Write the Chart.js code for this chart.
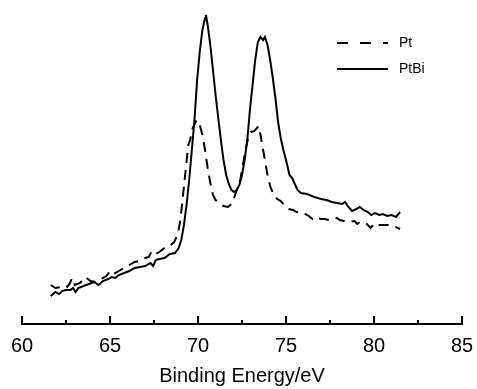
<!DOCTYPE html>
<html>
<head>
<meta charset="utf-8">
<script src="https://cdn.jsdelivr.net/npm/chart.js@4"></script>
<style>
  body { margin: 0; background: #fff; }
</style>
</head>
<body>
<canvas id="canvas" width="477" height="389"></canvas>
<script>
// Binding energy (eV) and intensity (arbitrary units)
var ptEnergy = [61.63, 61.9, 62.2, 62.5, 62.7, 62.85, 63.0, 63.3, 63.6, 63.9, 64.2, 64.5, 64.8, 65.0, 65.2,
    65.5, 65.8, 66.1, 66.4, 66.7, 67.0, 67.2, 67.35, 67.5, 67.8, 68.1, 68.4, 68.65, 68.85, 69.0,
    69.15, 69.3, 69.45, 69.55, 69.7, 69.85, 69.95, 70.1, 70.25, 70.4, 70.55, 70.7, 70.85, 71.0, 71.2,
    71.45, 71.7, 71.9, 72.05, 72.2, 72.4, 72.55, 72.7, 72.85, 73.0, 73.2, 73.35, 73.45, 73.55, 73.65,
    73.8, 73.95, 74.1, 74.3, 74.5, 74.7, 74.9, 75.15, 75.4, 75.6, 75.8, 76.0, 76.3, 76.5, 76.65,
    76.8, 77.0, 77.2, 77.45, 77.7, 77.9, 78.05, 78.3, 78.6, 78.9, 79.05, 79.2, 79.4, 79.6, 79.8,
    79.95, 80.1, 80.3, 80.55, 80.8, 81.1, 81.48];
var ptIntensity = [39, 36, 37, 36, 40, 46, 39, 41, 47, 43, 42, 45, 48, 53, 50,
    53, 56, 59, 62, 63, 66, 67, 72, 69, 72, 76, 78, 82, 90, 104,
    129, 154, 179, 184, 196, 202, 204, 199, 189, 174, 156, 141, 129, 124, 121,
    118, 117, 120, 126, 134, 144, 159, 174, 186, 192, 193, 196, 198, 189, 179,
    164, 149, 138, 129, 125, 123, 119, 115, 114, 112, 112, 111, 108, 105, 107,
    106, 105, 105, 104, 105, 106, 104, 103, 102, 103, 100, 102, 102, 100, 96,
    99, 101, 99, 99, 99, 98, 95];

var ptbiEnergy = [61.63, 61.9, 62.1, 62.3, 62.5, 62.75, 62.9, 63.05, 63.2, 63.5, 63.8, 64.1, 64.35, 64.6, 64.9,
    65.1, 65.3, 65.5, 65.8, 66.1, 66.4, 66.7, 67.0, 67.3, 67.45, 67.6, 67.8, 68.1, 68.4, 68.7,
    68.9, 69.05, 69.2, 69.35, 69.5, 69.65, 69.8, 69.95, 70.1, 70.25, 70.4, 70.45, 70.55, 70.7, 70.85,
    71.0, 71.15, 71.3, 71.45, 71.6, 71.75, 71.9, 72.05, 72.2, 72.35, 72.5, 72.65, 72.8, 72.95, 73.1,
    73.25, 73.4, 73.55, 73.7, 73.8, 73.95, 74.1, 74.25, 74.4, 74.55, 74.7, 74.85, 75.0, 75.2, 75.35,
    75.5, 75.65, 75.85, 76.2, 76.6, 77.0, 77.3, 77.6, 77.9, 78.2, 78.35, 78.55, 78.75, 79.0, 79.2,
    79.4, 79.65, 79.85, 80.05, 80.3, 80.5, 80.75, 81.0, 81.25, 81.48];
var ptbiIntensity = [28, 32, 30, 33, 34, 34, 36, 32, 36, 38, 40, 42, 39, 43, 45,
    47, 46, 49, 51, 53, 56, 57, 58, 61, 58, 64, 65, 66, 70, 71,
    76, 84, 99, 119, 144, 174, 204, 244, 272, 294, 306, 309, 299, 279, 254,
    229, 206, 184, 164, 149, 140, 134, 132, 134, 139, 149, 164, 184, 214, 239,
    264, 282, 287, 284, 287, 279, 264, 246, 226, 202, 186, 174, 164, 149, 146,
    140, 134, 131, 130, 127, 125, 124, 122, 121, 120, 122, 117, 113, 115, 117,
    114, 112, 109, 111, 109, 110, 108, 109, 107, 112];

var xTicks = [60, 65, 70, 75, 80, 85];
var xMinorTicks = [62.5, 67.5, 72.5, 77.5, 82.5];

var seriesNames = ['Pt', 'PtBi'];

function toPoints(xs, ys) {
    return xs.map(function(x, i) { return { x: x, y: ys[i] }; });
}

var fontFamily = '"Liberation Sans", Arial, sans-serif';

// tick marks point up into the plot, so draw them from the x scale
var innerTicks = {
    id: 'innerTicks',
    afterDraw: function(chart) {
        var ctx = chart.ctx;
        var xs = chart.scales.x;
        var bottom = chart.chartArea.bottom;
        ctx.save();
        ctx.strokeStyle = '#000';
        ctx.lineWidth = 2;
        xTicks.forEach(function(v) {
            var px = Math.round(xs.getPixelForValue(v));
            ctx.beginPath();
            ctx.moveTo(px, bottom);
            ctx.lineTo(px, bottom - 8);
            ctx.stroke();
        });
        xMinorTicks.forEach(function(v) {
            var px = Math.round(xs.getPixelForValue(v));
            ctx.beginPath();
            ctx.moveTo(px, bottom);
            ctx.lineTo(px, bottom - 4);
            ctx.stroke();
        });
        ctx.restore();
    }
};

// legend sits inside the plot at the top right
var insideLegend = {
    id: 'insideLegend',
    afterDraw: function(chart) {
        var ctx = chart.ctx;
        ctx.save();
        ctx.font = '14px ' + fontFamily;
        ctx.textBaseline = 'middle';
        ctx.fillStyle = '#000';
        chart.data.datasets.forEach(function(ds, i) {
            var y = 43 + i * 26;
            ctx.strokeStyle = ds.borderColor;
            ctx.lineWidth = 2;
            ctx.setLineDash(ds.borderDash && ds.borderDash.length ? [11, 12] : []);
            ctx.beginPath();
            ctx.moveTo(337, y);
            ctx.lineTo(388, y);
            ctx.stroke();
            ctx.fillText(ds.label, 399, y);
        });
        ctx.restore();
    }
};

var config = {
    type: 'line',
    data: {
        datasets: [{
            label: seriesNames[0],
            data: toPoints(ptEnergy, ptIntensity),
            borderColor: '#000',
            borderWidth: 2,
            borderDash: [10, 7],
            pointRadius: 0,
            fill: false,
            tension: 0
        }, {
            label: seriesNames[1],
            data: toPoints(ptbiEnergy, ptbiIntensity),
            borderColor: '#000',
            borderWidth: 2,
            pointRadius: 0,
            fill: false,
            tension: 0
        }]
    },
    options: {
        responsive: false,
        animation: false,
        devicePixelRatio: 1,
        layout: {
            padding: { left: 22, right: 15, top: 0, bottom: 0 }
        },
        plugins: {
            legend: { display: false },
            tooltip: { enabled: false }
        },
        scales: {
            x: {
                type: 'linear',
                min: 60,
                max: 85,
                grid: { display: false, drawTicks: false },
                border: { display: true, color: '#000', width: 2 },
                ticks: {
                    stepSize: 5,
                    padding: 10,
                    color: '#000',
                    font: { family: fontFamily, size: 20 },
                    maxRotation: 0
                },
                title: {
                    display: true,
                    text: 'Binding Energy/eV',
                    color: '#000',
                    font: { family: fontFamily, size: 20 },
                    padding: { top: 0, bottom: 1 }
                },
                afterFit: function(scale) {
                    scale.height = 65;
                    scale.paddingLeft = 0;
                    scale.paddingRight = 0;
                }
            },
            y: {
                display: false,
                min: 0,
                max: 324
            }
        }
    },
    plugins: [innerTicks, insideLegend]
};

window.onload = function() {
    window.myChart = new Chart(document.getElementById('canvas'), config);
};
</script>
</body>
</html>
